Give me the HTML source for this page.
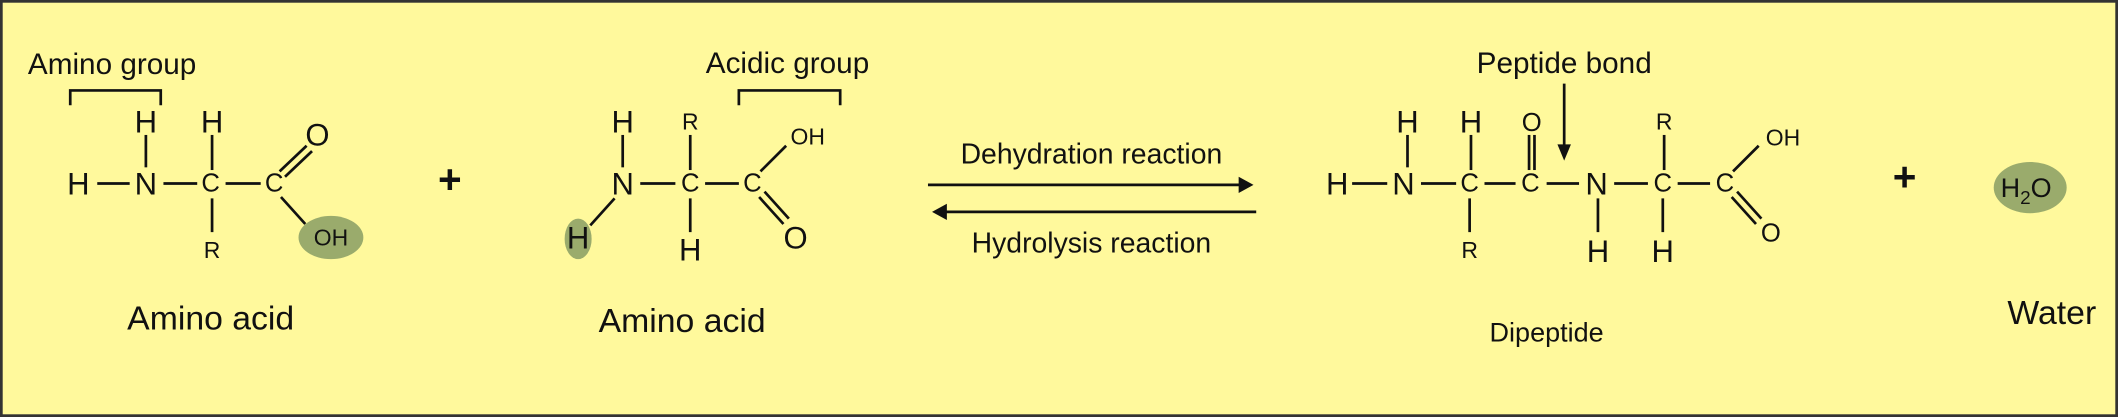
<!DOCTYPE html>
<html><head><meta charset="utf-8"><style>
html,body{margin:0;padding:0;background:#fff}
svg{display:block}
text{font-family:"Liberation Sans",sans-serif;fill:#111}
</style></head><body>
<svg width="2118" height="417" viewBox="0 0 1568 309" preserveAspectRatio="none" xmlns="http://www.w3.org/2000/svg">
<rect x="1" y="1" width="1566" height="307" fill="#fff99c" stroke="#333" stroke-width="2"/>
<g stroke="#111" stroke-width="2" fill="none">
<path d="M52,78 V67 H119 V78"/>
<path d="M547,78 V67 H622 V78"/>
<line x1="72" y1="136" x2="96" y2="136"/>
<line x1="121" y1="136" x2="146" y2="136"/>
<line x1="167" y1="136" x2="193" y2="136"/>
<line x1="108" y1="100" x2="108" y2="124"/>
<line x1="157" y1="100" x2="157" y2="126"/>
<line x1="157" y1="147" x2="157" y2="172"/>
<line x1="207" y1="127" x2="227" y2="108"/>
<line x1="211" y1="131" x2="231" y2="112"/>
<line x1="208" y1="146" x2="226" y2="166"/>
<line x1="461" y1="100" x2="461" y2="124"/>
<line x1="474" y1="136" x2="500" y2="136"/>
<line x1="522" y1="136" x2="547" y2="136"/>
<line x1="511" y1="100" x2="511" y2="126"/>
<line x1="511" y1="147" x2="511" y2="172"/>
<line x1="455" y1="147" x2="437" y2="167"/>
<line x1="563" y1="127" x2="582" y2="108"/>
<line x1="562" y1="146" x2="580" y2="166"/>
<line x1="566" y1="142" x2="584" y2="162"/>
<line x1="1001" y1="136" x2="1027" y2="136"/>
<line x1="1052" y1="136" x2="1078" y2="136"/>
<line x1="1099" y1="136" x2="1122" y2="136"/>
<line x1="1145" y1="136" x2="1169" y2="136"/>
<line x1="1195" y1="136" x2="1220" y2="136"/>
<line x1="1242" y1="136" x2="1266" y2="136"/>
<line x1="1042" y1="100" x2="1042" y2="124"/>
<line x1="1089" y1="100" x2="1089" y2="126"/>
<line x1="1132" y1="100" x2="1132" y2="126"/>
<line x1="1136" y1="100" x2="1136" y2="126"/>
<line x1="1232" y1="100" x2="1232" y2="126"/>
<line x1="1088" y1="147" x2="1088" y2="172"/>
<line x1="1183" y1="147" x2="1183" y2="172"/>
<line x1="1231" y1="147" x2="1231" y2="172"/>
<line x1="1283" y1="127" x2="1302" y2="108"/>
<line x1="1282" y1="146" x2="1300" y2="166"/>
<line x1="1286" y1="142" x2="1304" y2="162"/>
<line x1="687" y1="137" x2="920" y2="137"/>
<line x1="698" y1="157" x2="930" y2="157"/>
<line x1="1158" y1="62" x2="1158" y2="110"/>
</g>
<polygon points="928,137 917,131 917,143" fill="#111"/>
<polygon points="690,157 701,151 701,163" fill="#111"/>
<polygon points="1158,119 1153,107 1163,107" fill="#111"/>
<ellipse cx="245" cy="176" rx="24" ry="16" fill="#9aab6c"/>
<ellipse cx="428" cy="177" rx="10" ry="15" fill="#9aab6c"/>
<ellipse cx="1503" cy="139" rx="27" ry="19" fill="#9aab6c"/>
<g font-size="23" text-anchor="middle">
<text x="58" y="144">H</text><text x="108" y="144">N</text>
<text x="108" y="98">H</text><text x="157" y="98">H</text>
<text x="235" y="108">O</text>
<text x="461" y="98">H</text><text x="461" y="144">N</text>
<text x="428" y="184">H</text><text x="511" y="193">H</text><text x="589" y="184">O</text>
<text x="990" y="144">H</text><text x="1039" y="144">N</text>
<text x="1182" y="144">N</text>
<text x="1042" y="98">H</text><text x="1089" y="98">H</text>
<text x="1183" y="194">H</text><text x="1231" y="194">H</text>
</g>
<g font-size="30" font-weight="bold" text-anchor="middle">
<text x="333" y="143">+</text><text x="1410" y="141">+</text>
</g>
<g font-size="19" text-anchor="middle">
<text x="156" y="142">C</text><text x="203" y="142">C</text>
<text x="511" y="142">C</text><text x="557" y="142">C</text>
<text x="1088" y="142">C</text><text x="1133" y="142">C</text>
<text x="1231" y="142">C</text><text x="1277" y="142">C</text>
<text x="1134" y="97">O</text><text x="1311" y="179">O</text>
</g>
<g font-size="17" text-anchor="middle">
<text x="157" y="191">R</text><text x="245" y="182">OH</text>
<text x="511" y="96">R</text><text x="598" y="107">OH</text>
<text x="1232" y="96">R</text><text x="1320" y="108">OH</text>
<text x="1088" y="191">R</text>
</g>
<text x="1145" y="253" font-size="20" text-anchor="middle">Dipeptide</text>
<text x="1500" y="146" font-size="20" text-anchor="middle">H<tspan font-size="14" dy="5">2</tspan><tspan dy="-5">O</tspan></text>
<g font-size="22" text-anchor="middle">
<text x="83" y="55">Amino group</text>
<text x="583" y="54">Acidic group</text>
<text x="1158" y="54">Peptide bond</text>
</g>
<g font-size="21" text-anchor="middle">
<text x="808" y="121">Dehydration reaction</text>
<text x="808" y="187">Hydrolysis reaction</text>
</g>
<g font-size="25" text-anchor="middle">
<text x="156" y="244">Amino acid</text>
<text x="505" y="246">Amino acid</text>
<text x="1519" y="240">Water</text>
</g>
</svg>
</body></html>
